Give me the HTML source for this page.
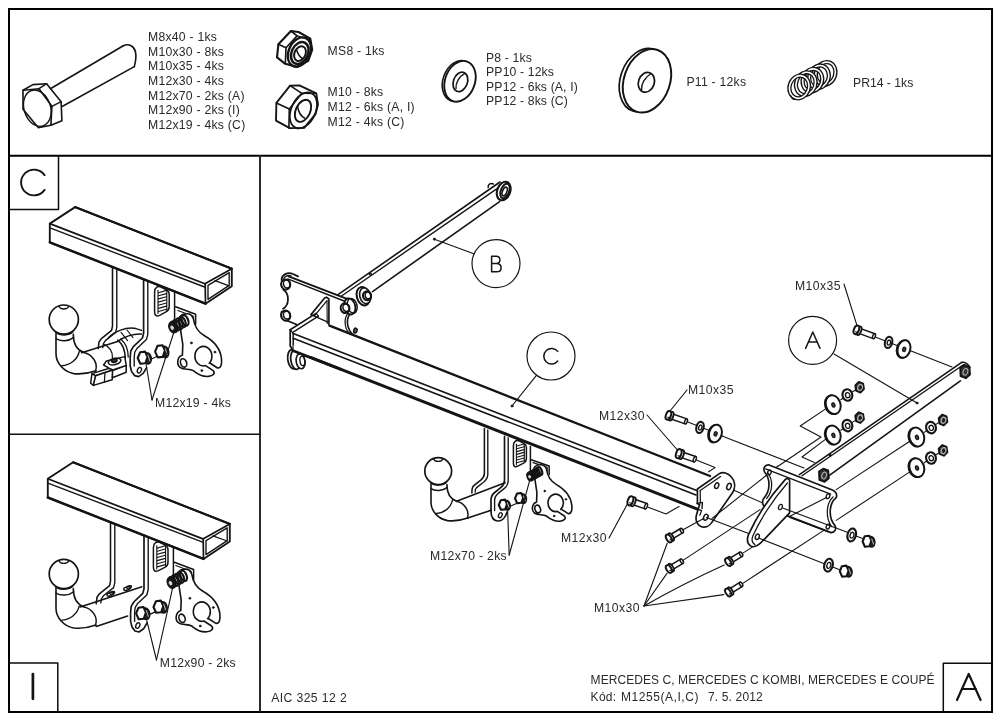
<!DOCTYPE html>
<html><head><meta charset="utf-8"><title>Assembly diagram</title>
<style>
html,body{margin:0;padding:0;background:#fff;}
body{width:1000px;height:721px;overflow:hidden;}
svg{display:block;font-family:"Liberation Sans",sans-serif;}
svg *{stroke-linecap:round;stroke-linejoin:round;}
svg text{stroke:none;}
svg{will-change:transform;transform:translateZ(0);}
</style></head><body>
<svg width="1000" height="721" viewBox="0 0 1000 721">
<rect x="0" y="0" width="1000" height="721" fill="#ffffff" stroke="none"/>
<rect x="9" y="9" width="983" height="703" fill="none" stroke="#000" stroke-width="2" style="stroke-linejoin:miter"/>
<line x1="9.0" y1="155.8" x2="992.0" y2="155.8" stroke="#000" stroke-width="2.0"/>
<line x1="260.0" y1="156.0" x2="260.0" y2="711.0" stroke="#2a2a2a" stroke-width="2.0"/>
<line x1="9.0" y1="434.3" x2="260.0" y2="434.3" stroke="#111" stroke-width="1.4"/>
<path d="M58.5 156.0 L58.5 209.4 L9.0 209.4" fill="none" stroke="#0c0c0c" stroke-width="1.5"/>
<path d="M9.0 663.0 L57.8 663.0 L57.8 711.0" fill="none" stroke="#0c0c0c" stroke-width="1.5"/>
<path d="M992.0 663.2 L943.3 663.2 L943.3 711.0" fill="none" stroke="#0c0c0c" stroke-width="1.5"/>
<path d="M44.57 175.10 A12.9 12.9 0 1 0 44.57 189.90" fill="none" stroke="#141414" stroke-width="1.9"/>
<line x1="32.9" y1="674.2" x2="32.9" y2="698.8" stroke="#141414" stroke-width="2.7"/>
<path d="M957.0 700.0 L968.7 674.0 L980.6 700.0" fill="none" stroke="#141414" stroke-width="2.2"/>
<line x1="961.8" y1="688.9" x2="975.8" y2="688.9" stroke="#141414" stroke-width="2.0"/>
<line x1="50.4" y1="88.7" x2="122.9" y2="46.0" stroke="#141414" stroke-width="1.61"/>
<line x1="62.6" y1="106.3" x2="134.3" y2="66.6" stroke="#141414" stroke-width="1.61"/>
<path d="M122.9 46.0 C128.5 43.2 133.8 45.6 135.4 51.5 C136.4 56 135.6 62 134.3 66.6" fill="none" stroke="#141414" stroke-width="1.61"/>
<path d="M23.0 90.2 L39.0 88.7 L51.9 106.3 L50.9 125.3 L38.2 127.6 L23.0 109.3 Z" fill="none" stroke="#141414" stroke-width="1.61"/>
<path d="M23.0 90.2 L32.9 84.6 L46.6 83.7 L61.1 101.7 L61.9 120.7 L50.9 125.3" fill="none" stroke="#141414" stroke-width="1.61"/>
<line x1="39.0" y1="88.7" x2="46.6" y2="83.7" stroke="#141414" stroke-width="1.49"/>
<line x1="51.9" y1="106.3" x2="61.1" y2="101.7" stroke="#141414" stroke-width="1.49"/>
<ellipse cx="37.3" cy="108.2" rx="13.2" ry="18.6" transform="rotate(-18 37.3 108.2)" fill="none" stroke="#141414" stroke-width="1.36"/>
<path d="M278.4 44.2 L290.9 31.0 L298.5 32.0 L310.3 38.6 L312.2 49.7 L308.2 60.8 L297.1 67.1 L285.3 63.8 L277.0 57.4 Z" fill="none" stroke="#141414" stroke-width="2.11"/>
<path d="M278.4 44.2 L286.0 47.7 L285.3 63.8" fill="none" stroke="#141414" stroke-width="1.61"/>
<path d="M286.0 47.7 L297.1 35.9 L290.9 31.0" fill="none" stroke="#141414" stroke-width="1.61"/>
<line x1="297.1" y1="35.9" x2="309.5" y2="39.5" stroke="#141414" stroke-width="1.49"/>
<ellipse cx="299.4" cy="52.0" rx="10.6" ry="15.3" transform="rotate(25 299.4 52.0)" fill="none" stroke="#141414" stroke-width="2.36"/>
<ellipse cx="299.8" cy="53.0" rx="8.1" ry="11.5" transform="rotate(25 299.8 53.0)" fill="none" stroke="#141414" stroke-width="2.48"/>
<ellipse cx="300.0" cy="53.6" rx="5.5" ry="7.7" transform="rotate(25 300.0 53.6)" fill="none" stroke="#141414" stroke-width="1.98"/>
<path d="M296.5 49.5 C297.5 53 299 56.5 302.5 58.5" fill="none" stroke="#141414" stroke-width="1.49"/>
<path d="M276.4 102.9 L290.1 85.6 L299.4 85.4 L316.3 93.3 L318.0 104.5 L315.5 114.2 L304.2 127.9 L289.7 128.1 L276.0 120.6 Z" fill="none" stroke="#141414" stroke-width="1.86"/>
<path d="M276.4 102.9 L289.3 109.0 L288.9 127.9" fill="none" stroke="#141414" stroke-width="1.61"/>
<path d="M289.3 109.0 L301.8 93.3 L290.1 85.6" fill="none" stroke="#141414" stroke-width="1.61"/>
<line x1="301.8" y1="93.3" x2="316.0" y2="93.6" stroke="#141414" stroke-width="1.49"/>
<ellipse cx="303.4" cy="110.4" rx="12.1" ry="19.0" transform="rotate(25 303.4 110.4)" fill="none" stroke="#141414" stroke-width="1.74"/>
<ellipse cx="303.0" cy="110.8" rx="7.2" ry="11.7" transform="rotate(25 303.0 110.8)" fill="none" stroke="#141414" stroke-width="1.86"/>
<path d="M297.6 107 C298.5 111.5 300.5 116 304.5 118" fill="none" stroke="#141414" stroke-width="1.49"/>
<path d="M297.6 107 C298.5 103 302 99.5 305.5 100.5" fill="none" stroke="#141414" stroke-width="1.24"/>
<ellipse cx="458.0" cy="80.9" rx="14.9" ry="21.0" transform="rotate(20 458.0 80.9)" fill="none" stroke="#141414" stroke-width="1.61"/>
<path d="M0 0" />
<ellipse cx="460.0" cy="81.3" rx="14.9" ry="21.0" transform="rotate(20 460.0 81.3)" fill="#fff" stroke="#141414" stroke-width="1.86"/>
<ellipse cx="460.4" cy="81.9" rx="7.0" ry="10.0" transform="rotate(20 460.4 81.9)" fill="none" stroke="#141414" stroke-width="1.74"/>
<path d="M456.0 88.5 C455.5 83 459 76.5 464.5 73.6" fill="none" stroke="#141414" stroke-width="1.36"/>
<ellipse cx="643.4" cy="80.2" rx="23.0" ry="32.6" transform="rotate(19 643.4 80.2)" fill="none" stroke="#141414" stroke-width="1.74"/>
<ellipse cx="647.0" cy="80.8" rx="23.0" ry="32.6" transform="rotate(19 647.0 80.8)" fill="#fff" stroke="#141414" stroke-width="1.98"/>
<ellipse cx="646.4" cy="82.3" rx="7.9" ry="10.1" transform="rotate(19 646.4 82.3)" fill="none" stroke="#141414" stroke-width="1.74"/>
<path d="M641.6 89.5 C641 84 645 77 650.6 74.0" fill="none" stroke="#141414" stroke-width="1.36"/>
<ellipse cx="825.6" cy="73.4" rx="9.6" ry="11.5" transform="rotate(20 825.6 73.4)" fill="none" stroke="#141414" stroke-width="4.22"/>
<ellipse cx="825.6" cy="73.4" rx="9.6" ry="11.5" transform="rotate(20 825.6 73.4)" fill="none" stroke="#fff" stroke-width="1.61"/>
<ellipse cx="819.0" cy="76.8" rx="9.6" ry="11.5" transform="rotate(20 819.0 76.8)" fill="none" stroke="#141414" stroke-width="4.22"/>
<ellipse cx="819.0" cy="76.8" rx="9.6" ry="11.5" transform="rotate(20 819.0 76.8)" fill="none" stroke="#fff" stroke-width="1.61"/>
<ellipse cx="812.4" cy="80.2" rx="9.6" ry="11.5" transform="rotate(20 812.4 80.2)" fill="none" stroke="#141414" stroke-width="4.22"/>
<ellipse cx="812.4" cy="80.2" rx="9.6" ry="11.5" transform="rotate(20 812.4 80.2)" fill="none" stroke="#fff" stroke-width="1.61"/>
<ellipse cx="805.8" cy="83.6" rx="9.6" ry="11.5" transform="rotate(20 805.8 83.6)" fill="none" stroke="#141414" stroke-width="4.22"/>
<ellipse cx="805.8" cy="83.6" rx="9.6" ry="11.5" transform="rotate(20 805.8 83.6)" fill="none" stroke="#fff" stroke-width="1.61"/>
<ellipse cx="799.2" cy="87.0" rx="9.6" ry="11.5" transform="rotate(20 799.2 87.0)" fill="none" stroke="#141414" stroke-width="4.22"/>
<ellipse cx="799.2" cy="87.0" rx="9.6" ry="11.5" transform="rotate(20 799.2 87.0)" fill="none" stroke="#fff" stroke-width="1.61"/>
<path d="M790.5 95.5 C792 98.5 793.5 99.5 794.5 99.0" fill="none" stroke="#141414" stroke-width="1.49"/>
<text x="148.0" y="40.9" font-size="12.2" letter-spacing="0.25" fill="#2a2a2a" text-anchor="start">M8x40 - 1ks</text>
<text x="148.0" y="55.5" font-size="12.2" letter-spacing="0.25" fill="#2a2a2a" text-anchor="start">M10x30 - 8ks</text>
<text x="148.0" y="70.2" font-size="12.2" letter-spacing="0.25" fill="#2a2a2a" text-anchor="start">M10x35 - 4ks</text>
<text x="148.0" y="84.8" font-size="12.2" letter-spacing="0.25" fill="#2a2a2a" text-anchor="start">M12x30 - 4ks</text>
<text x="148.0" y="99.5" font-size="12.2" letter-spacing="0.25" fill="#2a2a2a" text-anchor="start">M12x70 - 2ks (A)</text>
<text x="148.0" y="114.2" font-size="12.2" letter-spacing="0.25" fill="#2a2a2a" text-anchor="start">M12x90 - 2ks (I)</text>
<text x="148.0" y="128.8" font-size="12.2" letter-spacing="0.25" fill="#2a2a2a" text-anchor="start">M12x19 - 4ks (C)</text>
<text x="327.6" y="55.2" font-size="12.2" letter-spacing="0.25" fill="#2a2a2a" text-anchor="start">MS8 - 1ks</text>
<text x="327.6" y="96.4" font-size="12.2" letter-spacing="0.25" fill="#2a2a2a" text-anchor="start">M10 - 8ks</text>
<text x="327.6" y="111.1" font-size="12.2" letter-spacing="0.25" fill="#2a2a2a" text-anchor="start">M12 - 6ks (A, I)</text>
<text x="327.6" y="125.7" font-size="12.2" letter-spacing="0.25" fill="#2a2a2a" text-anchor="start">M12 - 4ks (C)</text>
<text x="486.1" y="61.5" font-size="12.2" letter-spacing="0.14" fill="#2a2a2a" text-anchor="start">P8 - 1ks</text>
<text x="486.1" y="76.1" font-size="12.2" letter-spacing="0.14" fill="#2a2a2a" text-anchor="start">PP10 - 12ks</text>
<text x="486.1" y="90.7" font-size="12.2" letter-spacing="0.14" fill="#2a2a2a" text-anchor="start">PP12 - 6ks (A, I)</text>
<text x="486.1" y="105.3" font-size="12.2" letter-spacing="0.14" fill="#2a2a2a" text-anchor="start">PP12 - 8ks (C)</text>
<text x="686.4" y="86.1" font-size="12.2" letter-spacing="0.25" fill="#2a2a2a" text-anchor="start">P11 - 12ks</text>
<text x="853.0" y="87.3" font-size="12.2" letter-spacing="0.0" fill="#2a2a2a" text-anchor="start">PR14 - 1ks</text>
<text x="271.2" y="702.3" font-size="12.2" letter-spacing="0.4" fill="#2a2a2a" text-anchor="start">AIC 325 12 2</text>
<text x="590.6" y="683.8" font-size="12.0" letter-spacing="0.07" fill="#2a2a2a" text-anchor="start">MERCEDES C, MERCEDES C KOMBI, MERCEDES E COUPÉ</text>
<text x="590.6" y="701.0" font-size="12.0" letter-spacing="0.3" fill="#2a2a2a" text-anchor="start">Kód:</text>
<text x="621.0" y="701.0" font-size="12.0" letter-spacing="0.55" fill="#2a2a2a" text-anchor="start">M1255(A,I,C)</text>
<text x="708.0" y="701.0" font-size="12.0" letter-spacing="0.15" fill="#2a2a2a" text-anchor="start">7. 5. 2012</text>
<line x1="338.0" y1="294.6" x2="500.0" y2="182.0" stroke="#141414" stroke-width="1.61"/>
<line x1="341.5" y1="296.0" x2="498.5" y2="187.6" stroke="#141414" stroke-width="1.36"/>
<line x1="372.5" y1="291.6" x2="499.6" y2="201.6" stroke="#141414" stroke-width="1.61"/>
<ellipse cx="503.7" cy="191.0" rx="6.5" ry="9.6" transform="rotate(20 503.7 191.0)" fill="#fff" stroke="#141414" stroke-width="2.11"/>
<ellipse cx="505.0" cy="191.0" rx="4.2" ry="7.6" transform="rotate(20 505.0 191.0)" fill="none" stroke="#141414" stroke-width="1.98"/>
<ellipse cx="504.7" cy="191.5" rx="2.2" ry="4.6" transform="rotate(20 504.7 191.5)" fill="none" stroke="#141414" stroke-width="1.61"/>
<path d="M488.2 187.6 C487.6 184.6 490.4 182.6 493.4 184.0" fill="none" stroke="#141414" stroke-width="1.49"/>
<ellipse cx="370.4" cy="274.2" rx="1.1" ry="0.8" transform="rotate(0 370.4 274.2)" fill="none" stroke="#141414" stroke-width="1.12"/>
<circle cx="496.0" cy="263.6" r="24.0" fill="none" stroke="#141414" stroke-width="1.18"/>
<circle cx="434.4" cy="239.2" r="1.1" fill="#141414" stroke="#141414" stroke-width="0.74"/>
<line x1="434.4" y1="239.2" x2="474.5" y2="254.0" stroke="#141414" stroke-width="1.12"/>
<path d="M491.6 256.2 L491.6 271.8 L496.6 271.8 C502.6 271.8 502.6 263.6 496.6 263.4 L491.6 263.4 M496.4 263.4 C501.2 263.2 501.2 256.2 496.0 256.2 L491.6 256.2" fill="none" stroke="#141414" stroke-width="1.49"/>
<line x1="288.6" y1="276.3" x2="349.0" y2="299.6" stroke="#141414" stroke-width="1.86"/>
<line x1="287.7" y1="278.9" x2="346.0" y2="301.8" stroke="#141414" stroke-width="1.49"/>
<path d="M281.6 280.0 C281.6 274.6 287.6 271.6 293.0 274.0 L298.0 276.4" fill="none" stroke="#141414" stroke-width="1.86"/>
<path d="M283.4 280.0 C284.0 276.6 287.6 274.6 291.0 276.0" fill="none" stroke="#141414" stroke-width="1.36"/>
<path d="M283.3 289.8 C289.6 293.6 289.6 304.6 283.0 308.8" fill="none" stroke="#141414" stroke-width="1.74"/>
<line x1="286.7" y1="320.4" x2="296.6" y2="324.6" stroke="#141414" stroke-width="1.61"/>
<path d="M281.6 311.4 C280.6 315 281.6 318.6 284.6 320.4" fill="none" stroke="#141414" stroke-width="1.49"/>
<ellipse cx="285.7" cy="284.5" rx="4.5" ry="5.0" transform="rotate(-15 285.7 284.5)" fill="#fff" stroke="#141414" stroke-width="2.11"/>
<ellipse cx="286.9" cy="284.0" rx="3.4" ry="4.0" transform="rotate(-15 286.9 284.0)" fill="none" stroke="#141414" stroke-width="1.49"/>
<ellipse cx="285.7" cy="315.6" rx="4.5" ry="5.0" transform="rotate(-15 285.7 315.6)" fill="#fff" stroke="#141414" stroke-width="2.11"/>
<ellipse cx="286.9" cy="315.1" rx="3.4" ry="4.0" transform="rotate(-15 286.9 315.1)" fill="none" stroke="#141414" stroke-width="1.49"/>
<path d="M350.0 313.6 C345.6 320 347.0 329.4 353.4 335.2" fill="none" stroke="#141414" stroke-width="1.61"/>
<path d="M347.4 313.8 C343.4 320 344.8 330 350.4 334.4" fill="none" stroke="#141414" stroke-width="1.24"/>
<ellipse cx="355.4" cy="330.6" rx="1.7" ry="2.5" transform="rotate(10 355.4 330.6)" fill="#555" stroke="#141414" stroke-width="1.49"/>
<ellipse cx="349.8" cy="306.4" rx="5.4" ry="8.2" transform="rotate(-15 349.8 306.4)" fill="#fff" stroke="#141414" stroke-width="1.86"/>
<ellipse cx="352.2" cy="305.8" rx="4.8" ry="7.4" transform="rotate(-15 352.2 305.8)" fill="none" stroke="#141414" stroke-width="1.49"/>
<ellipse cx="345.0" cy="308.2" rx="4.3" ry="4.8" transform="rotate(-15 345.0 308.2)" fill="#fff" stroke="#141414" stroke-width="2.11"/>
<ellipse cx="346.2" cy="307.7" rx="3.2" ry="3.8" transform="rotate(-15 346.2 307.7)" fill="none" stroke="#141414" stroke-width="1.49"/>
<ellipse cx="363.2" cy="296.2" rx="6.4" ry="9.4" transform="rotate(-15 363.2 296.2)" fill="#fff" stroke="#141414" stroke-width="1.98"/>
<ellipse cx="365.2" cy="295.8" rx="5.4" ry="8.0" transform="rotate(-15 365.2 295.8)" fill="#fff" stroke="#141414" stroke-width="1.61"/>
<ellipse cx="367.0" cy="295.8" rx="4.0" ry="4.4" transform="rotate(-15 367.0 295.8)" fill="#fff" stroke="#141414" stroke-width="2.11"/>
<ellipse cx="368.2" cy="295.3" rx="3.0" ry="3.5" transform="rotate(-15 368.2 295.3)" fill="none" stroke="#141414" stroke-width="1.49"/>
<path d="M311.0 314.6 L324.6 298.0 L326.4 297.2 L328.9 299.0 L328.9 324.6" fill="none" stroke="#141414" stroke-width="1.67"/>
<path d="M314.6 315.6 L326.8 300.8" fill="none" stroke="#141414" stroke-width="1.24"/>
<line x1="327.0" y1="300.6" x2="327.2" y2="323.6" stroke="#141414" stroke-width="1.12"/>
<line x1="311.0" y1="314.6" x2="328.4" y2="322.4" stroke="#141414" stroke-width="1.36"/>
<line x1="290.2" y1="329.8" x2="316.0" y2="313.4" stroke="#141414" stroke-width="1.61"/>
<line x1="293.6" y1="331.8" x2="318.4" y2="316.2" stroke="#141414" stroke-width="1.36"/>
<line x1="316.0" y1="313.4" x2="318.4" y2="316.2" stroke="#141414" stroke-width="1.24"/>
<path d="M290.2 329.8 L290.2 346.0 L293.2 350.8" fill="none" stroke="#141414" stroke-width="1.74"/>
<line x1="293.2" y1="333.4" x2="293.2" y2="350.8" stroke="#141414" stroke-width="1.49"/>
<line x1="290.2" y1="329.8" x2="293.2" y2="333.4" stroke="#141414" stroke-width="1.36"/>
<line x1="329.5" y1="325.7" x2="710.0" y2="476.0" stroke="#141414" stroke-width="2.36"/>
<line x1="293.2" y1="333.4" x2="698.0" y2="491.0" stroke="#141414" stroke-width="1.61"/>
<line x1="293.2" y1="338.2" x2="696.0" y2="495.0" stroke="#141414" stroke-width="1.49"/>
<line x1="293.2" y1="350.6" x2="698.0" y2="509.4" stroke="#141414" stroke-width="2.85"/>
<ellipse cx="292.6" cy="359.4" rx="4.8" ry="9.6" transform="rotate(-8 292.6 359.4)" fill="#fff" stroke="#141414" stroke-width="1.74"/>
<ellipse cx="295.6" cy="359.8" rx="4.8" ry="9.6" transform="rotate(-8 295.6 359.8)" fill="#fff" stroke="#141414" stroke-width="1.74"/>
<ellipse cx="300.6" cy="361.2" rx="4.4" ry="7.6" transform="rotate(-8 300.6 361.2)" fill="#fff" stroke="#141414" stroke-width="1.61"/>
<ellipse cx="302.4" cy="361.0" rx="2.4" ry="4.6" transform="rotate(-8 302.4 361.0)" fill="none" stroke="#141414" stroke-width="1.36"/>
<path d="M293.6 351 L311 357.8 L311 352 L293.6 345 Z" fill="#fff" stroke="none"/>
<line x1="293.2" y1="350.8" x2="340.0" y2="369.0" stroke="#141414" stroke-width="2.73"/>
<circle cx="551.0" cy="356.0" r="24.0" fill="none" stroke="#141414" stroke-width="1.18"/>
<circle cx="512.0" cy="406.0" r="1.1" fill="#141414" stroke="#141414" stroke-width="0.74"/>
<line x1="512.0" y1="406.0" x2="536.4" y2="375.4" stroke="#141414" stroke-width="1.12"/>
<path d="M557.75 351.40 A7.8 7.8 0 1 0 557.75 361.00" fill="none" stroke="#141414" stroke-width="1.49"/>
<path d="M484.4 428.6 L484.4 473.6 C484.2 478 482 479 479.4 481.2 L473.6 485.8 C472 487.2 471.8 489.5 471.9 493.0" fill="none" stroke="#141414" stroke-width="1.55"/>
<path d="M487.8 430.0 L487.8 474.6 C487.6 479.4 485.2 480.8 482.8 482.8 L476.6 487.6 C475.2 488.8 475.0 490.6 475.2 492.2" fill="none" stroke="#141414" stroke-width="1.36"/>
<line x1="456.6" y1="501.3" x2="505.0" y2="482.7" stroke="#141414" stroke-width="1.61"/>
<line x1="467.7" y1="518.0" x2="491.2" y2="510.2" stroke="#141414" stroke-width="1.61"/>
<path d="M431.0 484.0 L431.0 502.7 C431.2 511.0 438.0 519.0 447.5 520.6 C455.0 521.6 462.0 520.0 467.7 518.0" fill="none" stroke="#141414" stroke-width="1.61"/>
<path d="M446.9 484.5 C446.9 492.0 449.0 498.5 456.6 501.3" fill="none" stroke="#141414" stroke-width="1.61"/>
<path d="M456.6 501.3 C464.0 503.0 470.0 510.5 467.3 518.2" fill="none" stroke="#141414" stroke-width="1.45"/>
<path d="M436.4 513.4 C444.0 513.0 450.6 508.0 452.4 500.4" fill="none" stroke="#141414" stroke-width="1.37"/>
<path d="M431.0 488.6 C435.0 491.4 443.0 491.0 446.9 487.6" fill="none" stroke="#141414" stroke-width="1.45"/>
<circle cx="438.2" cy="471.1" r="13.4" fill="#fff" stroke="#141414" stroke-width="1.69"/>
<path d="M430.6 482.9 C435.0 486.2 443.0 485.8 446.6 482.2" fill="none" stroke="#141414" stroke-width="1.45"/>
<path d="M433.6 458.9 C435.0 462.2 441.4 462.2 442.8 458.9" fill="none" stroke="#141414" stroke-width="1.29"/>
<path d="M504.5 436.4 L504.5 480.5 C504.4 484 503.4 485.4 501 487.4 L494.1 493 C491.6 495.2 491.0 497.6 491.0 500.5 L491.0 511 C491.0 516 493 520.4 497.4 521.0 C502 521.4 505.6 517.6 507.0 512.0" fill="none" stroke="#141414" stroke-width="1.67"/>
<path d="M508.2 437.8 L508.2 480.8 C508.0 485 506.6 486.6 504.4 488.4 L497.6 493.9 C495.6 495.6 494.6 497.4 494.6 500.0 L494.6 510.5" fill="none" stroke="#141414" stroke-width="1.36"/>
<line x1="530.4" y1="446.4" x2="530.4" y2="471.6" stroke="#141414" stroke-width="1.49"/>
<path d="M531.2 459.8 L549.2 466.0 L549.2 474.6" fill="none" stroke="#141414" stroke-width="1.49"/>
<path d="M533.0 462.6 L547.2 467.4 L547.2 472.0" fill="none" stroke="#141414" stroke-width="1.12"/>
<path d="M513.4 445.5 C513.4 441.2 516.5 439.6 519.5 441.2 L524.2 443.6 C526.0 444.6 526.4 445.8 526.4 447.5 L526.4 458.6 C526.4 461.2 525.6 462.2 523.6 463.2 L517.8 466.2 C515.0 467.6 513.4 466.2 513.4 463.2 Z" fill="none" stroke="#141414" stroke-width="1.49"/>
<line x1="516.8" y1="446.0" x2="524.0" y2="444.0" stroke="#141414" stroke-width="1.18"/>
<line x1="516.8" y1="448.8" x2="524.0" y2="446.8" stroke="#141414" stroke-width="1.18"/>
<line x1="516.8" y1="451.6" x2="524.0" y2="449.6" stroke="#141414" stroke-width="1.18"/>
<line x1="516.8" y1="454.4" x2="524.0" y2="452.4" stroke="#141414" stroke-width="1.18"/>
<line x1="516.8" y1="457.2" x2="524.0" y2="455.2" stroke="#141414" stroke-width="1.18"/>
<line x1="516.8" y1="460.0" x2="524.0" y2="458.0" stroke="#141414" stroke-width="1.18"/>
<line x1="516.8" y1="462.8" x2="524.0" y2="460.8" stroke="#141414" stroke-width="1.18"/>
<line x1="516.4" y1="444.0" x2="516.4" y2="464.6" stroke="#141414" stroke-width="1.12"/>
<line x1="524.3" y1="444.6" x2="524.3" y2="461.6" stroke="#141414" stroke-width="1.12"/>
<path d="M534.7 477.2 L533.6 470.0 C534.0 464.5 544.0 462.0 546.4 469.0 C547.6 477.0 551.0 481.6 556.5 484.6 C565.0 489.4 571.0 497.0 571.8 505.5 C572.2 510.0 571.5 514.0 568.2 513.6 L561.6 509.4 L560.8 509.4 A7.7 8.7 0 1 0 557.4 511.4 L564.3 516.0 C566.4 518.4 564.5 520.8 560.0 521.2 C553.0 521.8 549.0 518.0 546.4 516.0 C543.0 513.8 538.0 515.8 534.4 513.0 C531.0 510.0 532.0 503.6 536.6 502.0 L536.9 492.4 L535.4 482.7 Z" fill="#fff" stroke="#141414" stroke-width="1.61"/>
<ellipse cx="537.7" cy="509.0" rx="2.7" ry="3.9" transform="rotate(-20 537.7 509.0)" fill="none" stroke="#141414" stroke-width="1.61"/>
<circle cx="544.7" cy="491.0" r="0.9" fill="#141414" stroke="#141414" stroke-width="0.62"/>
<circle cx="565.9" cy="499.3" r="0.9" fill="#141414" stroke="#141414" stroke-width="0.62"/>
<circle cx="554.1" cy="516.0" r="0.9" fill="#141414" stroke="#141414" stroke-width="0.62"/>
<ellipse cx="530.8" cy="476.1" rx="2.3" ry="4.2" transform="rotate(-22 530.8 476.1)" fill="#fff" stroke="#141414" stroke-width="2.17"/>
<ellipse cx="533.0" cy="474.8" rx="2.3" ry="4.2" transform="rotate(-22 533.0 474.8)" fill="none" stroke="#141414" stroke-width="2.17"/>
<ellipse cx="535.2" cy="473.6" rx="2.3" ry="4.2" transform="rotate(-22 535.2 473.6)" fill="none" stroke="#141414" stroke-width="2.17"/>
<ellipse cx="537.4" cy="472.4" rx="2.3" ry="4.2" transform="rotate(-22 537.4 472.4)" fill="none" stroke="#141414" stroke-width="2.17"/>
<ellipse cx="539.6" cy="471.2" rx="2.3" ry="4.2" transform="rotate(-22 539.6 471.2)" fill="none" stroke="#141414" stroke-width="2.17"/>
<ellipse cx="530.0" cy="476.6" rx="2.4" ry="3.9" transform="rotate(-22 530.0 476.6)" fill="#1c1c1c" stroke="#141414" stroke-width="2.23"/>
<ellipse cx="529.6" cy="476.8" rx="0.9" ry="1.5" transform="rotate(-22 529.6 476.8)" fill="#ddd" stroke="#ddd" stroke-width="0.74"/>
<ellipse cx="500.3" cy="515.2" rx="1.7" ry="2.6" transform="rotate(25 500.3 515.2)" fill="none" stroke="#141414" stroke-width="1.36"/>
<line x1="508.5" y1="507.0" x2="517.0" y2="503.2" stroke="#141414" stroke-width="1.24"/>
<ellipse cx="507.0" cy="505.3" rx="3.0" ry="4.6" transform="rotate(-8 507.0 505.3)" fill="#2a2a2a" stroke="#141414" stroke-width="1.98"/>
<path d="M498.8 505.0 L500.8 500.2 L505.0 499.6 L507.0 504.2 L505.2 509.4 L501.0 509.8 Z" fill="#fff" stroke="#141414" stroke-width="2.11"/>
<line x1="507.3" y1="502.6" x2="509.0" y2="507.4" stroke="#bbb" stroke-width="0.99"/>
<ellipse cx="523.2" cy="498.7" rx="3.0" ry="4.6" transform="rotate(-8 523.2 498.7)" fill="#2a2a2a" stroke="#141414" stroke-width="1.98"/>
<path d="M515.0 498.4 L517.0 493.6 L521.2 493.0 L523.2 497.6 L521.4 502.8 L517.2 503.2 Z" fill="#fff" stroke="#141414" stroke-width="2.11"/>
<line x1="523.5" y1="496.0" x2="525.2" y2="500.8" stroke="#bbb" stroke-width="0.99"/>
<line x1="509.2" y1="555.0" x2="507.6" y2="509.6" stroke="#141414" stroke-width="1.12"/>
<line x1="509.2" y1="555.0" x2="530.2" y2="478.6" stroke="#141414" stroke-width="1.12"/>
<text x="430.0" y="560.4" font-size="12.2" letter-spacing="0.32" fill="#2a2a2a" text-anchor="start">M12x70 - 2ks</text>
<line x1="687.0" y1="390.0" x2="670.0" y2="411.0" stroke="#141414" stroke-width="1.12"/>
<text x="688.0" y="394.0" font-size="12.2" letter-spacing="0.45" fill="#2a2a2a" text-anchor="start">M10x35</text>
<line x1="686.0" y1="421.2" x2="722.0" y2="435.6" stroke="#141414" stroke-width="1.12"/>
<line x1="722.0" y1="436.0" x2="804.0" y2="468.0" stroke="#141414" stroke-width="1.12"/>
<path d="M668.1 418.0 L685.1 423.9" fill="none" stroke="#141414" stroke-width="1.49"/>
<path d="M669.9 413.0 L686.9 418.9" fill="none" stroke="#141414" stroke-width="1.49"/>
<ellipse cx="686.0" cy="421.4" rx="1.3" ry="2.6" transform="rotate(19.139782258653064 686.0 421.4)" fill="#fff" stroke="#141414" stroke-width="1.49"/>
<ellipse cx="671.1" cy="416.2" rx="2.0" ry="4.5" transform="rotate(19.139782258653064 671.1 416.2)" fill="#fff" stroke="#141414" stroke-width="1.86"/>
<ellipse cx="668.4" cy="415.3" rx="2.5" ry="4.5" transform="rotate(19.139782258653064 668.4 415.3)" fill="#fff" stroke="#141414" stroke-width="1.98"/>
<line x1="667.8" y1="417.2" x2="670.2" y2="418.1" stroke="#141414" stroke-width="1.12"/>
<ellipse cx="700.0" cy="427.4" rx="3.6" ry="5.7" transform="rotate(15 700.0 427.4)" fill="#fff" stroke="#141414" stroke-width="2.11"/>
<ellipse cx="700.3" cy="427.6" rx="1.6" ry="2.6" transform="rotate(15 700.3 427.6)" fill="none" stroke="#141414" stroke-width="1.36"/>
<ellipse cx="714.4" cy="433.7" rx="6.3" ry="9.0" transform="rotate(15 714.4 433.7)" fill="#fff" stroke="#141414" stroke-width="1.61"/>
<ellipse cx="715.4" cy="433.5" rx="6.3" ry="9.0" transform="rotate(15 715.4 433.5)" fill="#fff" stroke="#141414" stroke-width="1.98"/>
<ellipse cx="715.6" cy="433.9" rx="1.5" ry="2.2" transform="rotate(15 715.6 433.9)" fill="#444" stroke="#141414" stroke-width="1.24"/>
<text x="599.0" y="420.0" font-size="12.2" letter-spacing="0.45" fill="#2a2a2a" text-anchor="start">M12x30</text>
<line x1="647.0" y1="415.0" x2="677.0" y2="449.5" stroke="#141414" stroke-width="1.12"/>
<path d="M695.0 459.4 L715.0 467.6 L708.6 471.8" fill="none" stroke="#141414" stroke-width="1.12"/>
<path d="M678.4 456.6 L693.9 461.9" fill="none" stroke="#141414" stroke-width="1.49"/>
<path d="M680.2 451.2 L695.7 456.5" fill="none" stroke="#141414" stroke-width="1.49"/>
<ellipse cx="694.8" cy="459.2" rx="1.3" ry="2.9" transform="rotate(18.87737848096152 694.8 459.2)" fill="#fff" stroke="#141414" stroke-width="1.49"/>
<ellipse cx="681.5" cy="454.6" rx="2.1" ry="4.7" transform="rotate(18.87737848096152 681.5 454.6)" fill="#fff" stroke="#141414" stroke-width="1.86"/>
<ellipse cx="678.7" cy="453.7" rx="2.6" ry="4.7" transform="rotate(18.87737848096152 678.7 453.7)" fill="#fff" stroke="#141414" stroke-width="1.98"/>
<line x1="678.0" y1="455.7" x2="680.6" y2="456.6" stroke="#141414" stroke-width="1.12"/>
<text x="561.0" y="542.0" font-size="12.2" letter-spacing="0.45" fill="#2a2a2a" text-anchor="start">M12x30</text>
<line x1="609.0" y1="538.0" x2="627.4" y2="504.0" stroke="#141414" stroke-width="1.12"/>
<path d="M646.0 506.4 L666.0 514.0 L679.0 506.4" fill="none" stroke="#141414" stroke-width="1.12"/>
<path d="M630.1 503.7 L645.1 508.9" fill="none" stroke="#141414" stroke-width="1.49"/>
<path d="M631.9 498.3 L646.9 503.5" fill="none" stroke="#141414" stroke-width="1.49"/>
<ellipse cx="646.0" cy="506.2" rx="1.3" ry="2.9" transform="rotate(19.119726329931115 646.0 506.2)" fill="#fff" stroke="#141414" stroke-width="1.49"/>
<ellipse cx="633.2" cy="501.8" rx="2.1" ry="4.7" transform="rotate(19.119726329931115 633.2 501.8)" fill="#fff" stroke="#141414" stroke-width="1.86"/>
<ellipse cx="630.4" cy="500.8" rx="2.6" ry="4.7" transform="rotate(19.119726329931115 630.4 500.8)" fill="#fff" stroke="#141414" stroke-width="1.98"/>
<line x1="629.7" y1="502.8" x2="632.3" y2="503.7" stroke="#141414" stroke-width="1.12"/>
<path d="M697.4 489.0 L719.4 473.6 C723 471.4 728 473 731.4 477 C735 481 735.6 487 733.0 492.0 L712.4 521.6 C709.6 526 705 528.4 700.4 526.2 C696.4 524.2 695.2 519 696.6 514.6 L699.6 504.4 L697.4 503.6 Z" fill="#fff" stroke="#141414" stroke-width="1.67"/>
<path d="M700.2 490.6 L720.6 476.6" fill="none" stroke="#141414" stroke-width="1.24"/>
<path d="M700.2 490.6 L700.4 503.0" fill="none" stroke="#141414" stroke-width="1.24"/>
<ellipse cx="716.7" cy="485.7" rx="1.9" ry="2.9" transform="rotate(22 716.7 485.7)" fill="none" stroke="#141414" stroke-width="1.49"/>
<ellipse cx="729.0" cy="486.5" rx="2.1" ry="3.3" transform="rotate(22 729.0 486.5)" fill="none" stroke="#141414" stroke-width="1.49"/>
<ellipse cx="705.8" cy="517.2" rx="2.1" ry="3.1" transform="rotate(22 705.8 517.2)" fill="none" stroke="#141414" stroke-width="1.49"/>
<path d="M697.0 503.4 L702.4 502.4 L702.0 508.6" fill="none" stroke="#141414" stroke-width="1.36"/>
<path d="M698.0 509.4 L701.5 510.6 L699.8 515.4" fill="none" stroke="#141414" stroke-width="1.24"/>
<text x="594.0" y="612.0" font-size="12.2" letter-spacing="0.45" fill="#2a2a2a" text-anchor="start">M10x30</text>
<path d="M670.6 540.2 L683.0 532.7" fill="none" stroke="#141414" stroke-width="1.49"/>
<path d="M668.2 536.0 L680.6 528.5" fill="none" stroke="#141414" stroke-width="1.49"/>
<ellipse cx="681.8" cy="530.6" rx="1.3" ry="2.4" transform="rotate(-31.167172646102316 681.8 530.6)" fill="#fff" stroke="#141414" stroke-width="1.49"/>
<ellipse cx="671.2" cy="537.0" rx="1.9" ry="4.3" transform="rotate(-31.167172646102316 671.2 537.0)" fill="#fff" stroke="#141414" stroke-width="1.86"/>
<ellipse cx="668.9" cy="538.4" rx="2.4" ry="4.3" transform="rotate(-31.167172646102316 668.9 538.4)" fill="#fff" stroke="#141414" stroke-width="1.98"/>
<line x1="669.9" y1="540.0" x2="672.0" y2="538.8" stroke="#141414" stroke-width="1.12"/>
<path d="M670.6 570.8 L683.0 563.3" fill="none" stroke="#141414" stroke-width="1.49"/>
<path d="M668.2 566.6 L680.6 559.1" fill="none" stroke="#141414" stroke-width="1.49"/>
<ellipse cx="681.8" cy="561.2" rx="1.3" ry="2.4" transform="rotate(-31.167172646102316 681.8 561.2)" fill="#fff" stroke="#141414" stroke-width="1.49"/>
<ellipse cx="671.2" cy="567.6" rx="1.9" ry="4.3" transform="rotate(-31.167172646102316 671.2 567.6)" fill="#fff" stroke="#141414" stroke-width="1.86"/>
<ellipse cx="668.9" cy="569.0" rx="2.4" ry="4.3" transform="rotate(-31.167172646102316 668.9 569.0)" fill="#fff" stroke="#141414" stroke-width="1.98"/>
<line x1="669.9" y1="570.6" x2="672.0" y2="569.4" stroke="#141414" stroke-width="1.12"/>
<path d="M729.9 563.9 L742.3 556.4" fill="none" stroke="#141414" stroke-width="1.49"/>
<path d="M727.5 559.7 L739.9 552.2" fill="none" stroke="#141414" stroke-width="1.49"/>
<ellipse cx="741.1" cy="554.3" rx="1.3" ry="2.4" transform="rotate(-31.167172646102316 741.1 554.3)" fill="#fff" stroke="#141414" stroke-width="1.49"/>
<ellipse cx="730.5" cy="560.7" rx="1.9" ry="4.3" transform="rotate(-31.167172646102316 730.5 560.7)" fill="#fff" stroke="#141414" stroke-width="1.86"/>
<ellipse cx="728.2" cy="562.1" rx="2.4" ry="4.3" transform="rotate(-31.167172646102316 728.2 562.1)" fill="#fff" stroke="#141414" stroke-width="1.98"/>
<line x1="729.2" y1="563.7" x2="731.3" y2="562.5" stroke="#141414" stroke-width="1.12"/>
<path d="M730.0 594.2 L742.4 586.3" fill="none" stroke="#141414" stroke-width="1.49"/>
<path d="M727.4 590.2 L739.8 582.3" fill="none" stroke="#141414" stroke-width="1.49"/>
<ellipse cx="741.1" cy="584.3" rx="1.3" ry="2.4" transform="rotate(-32.501080540361635 741.1 584.3)" fill="#fff" stroke="#141414" stroke-width="1.49"/>
<ellipse cx="730.5" cy="591.1" rx="1.9" ry="4.3" transform="rotate(-32.501080540361635 730.5 591.1)" fill="#fff" stroke="#141414" stroke-width="1.86"/>
<ellipse cx="728.2" cy="592.5" rx="2.4" ry="4.3" transform="rotate(-32.501080540361635 728.2 592.5)" fill="#fff" stroke="#141414" stroke-width="1.98"/>
<line x1="729.3" y1="594.1" x2="731.3" y2="592.8" stroke="#141414" stroke-width="1.12"/>
<line x1="644.0" y1="606.0" x2="667.2" y2="543.2" stroke="#141414" stroke-width="1.12"/>
<line x1="644.0" y1="606.0" x2="667.0" y2="573.4" stroke="#141414" stroke-width="1.12"/>
<path d="M644 606 C672 590 700 576 724.2 565.0" fill="none" stroke="#141414" stroke-width="1.12"/>
<path d="M644 606 C672 602 700 598 723.8 594.6" fill="none" stroke="#141414" stroke-width="1.12"/>
<line x1="683.0" y1="529.8" x2="703.6" y2="518.6" stroke="#141414" stroke-width="1.12"/>
<line x1="683.0" y1="560.4" x2="760.0" y2="509.6" stroke="#141414" stroke-width="1.12"/>
<line x1="742.4" y1="553.4" x2="752.0" y2="547.4" stroke="#141414" stroke-width="1.12"/>
<line x1="742.4" y1="583.6" x2="828.0" y2="527.6" stroke="#141414" stroke-width="1.12"/>
<line x1="712.0" y1="518.4" x2="760.0" y2="480.4" stroke="#141414" stroke-width="1.12"/>
<line x1="760.0" y1="480.4" x2="778.0" y2="466.0" stroke="#141414" stroke-width="1.12"/>
<line x1="734.4" y1="490.4" x2="764.0" y2="503.6" stroke="#141414" stroke-width="1.12"/>
<line x1="706.4" y1="517.4" x2="748.6" y2="533.6" stroke="#141414" stroke-width="1.12"/>
<line x1="799.4" y1="474.6" x2="961.7" y2="362.4" stroke="#141414" stroke-width="1.61"/>
<line x1="802.0" y1="475.8" x2="963.4" y2="364.8" stroke="#141414" stroke-width="1.36"/>
<line x1="829.0" y1="475.6" x2="960.4" y2="380.9" stroke="#141414" stroke-width="1.61"/>
<path d="M961.7 362.4 C964.5 361.8 968.5 364.0 970.0 367.5" fill="none" stroke="#141414" stroke-width="1.49"/>
<ellipse cx="830.2" cy="455.2" rx="1.0" ry="0.7" transform="rotate(0 830.2 455.2)" fill="none" stroke="#141414" stroke-width="1.12"/>
<path d="M819.0 471.5 L823.2 468.7 L828.2 470.5 L828.8 478.3 L824.6 481.9 L819.4 479.9 Z" fill="#333" stroke="#141414" stroke-width="1.86"/>
<ellipse cx="824.2" cy="475.5" rx="2.3" ry="3.4" transform="rotate(20 824.2 475.5)" fill="#333" stroke="#aaa" stroke-width="1.12"/>
<path d="M960.2 367.8 L964.4 365.0 L969.4 366.8 L970.0 374.6 L965.8 378.2 L960.6 376.2 Z" fill="#333" stroke="#141414" stroke-width="1.86"/>
<ellipse cx="965.4" cy="371.8" rx="2.3" ry="3.4" transform="rotate(20 965.4 371.8)" fill="#333" stroke="#aaa" stroke-width="1.12"/>
<path d="M768.4 464.8 L832.4 490.0 C836 491.4 837.4 494.6 836.2 497.6 C828.4 504 828.4 518 835.0 525.6 C836.6 529 835 532.6 831.0 532.6 L789.6 516.6 L766.0 507.4 C762.6 506 761.6 502 763.6 498.6 C770.6 491 770.6 479 764.6 472.0 C762.8 468.6 764.6 465 768.4 464.8 Z" fill="#fff" stroke="#141414" stroke-width="1.67"/>
<path d="M765.6 468.8 L830.6 494.2" fill="none" stroke="#141414" stroke-width="1.24"/>
<path d="M833.0 497.0 C825.6 504 825.6 518 831.6 526.6" fill="none" stroke="#141414" stroke-width="1.24"/>
<path d="M767.6 472.6 C773.4 480 773.0 491 766.6 498.6" fill="none" stroke="#141414" stroke-width="1.24"/>
<line x1="826.4" y1="497.6" x2="790.4" y2="516.0" stroke="#141414" stroke-width="1.12"/>
<ellipse cx="769.4" cy="472.4" rx="1.7" ry="2.5" transform="rotate(20 769.4 472.4)" fill="none" stroke="#141414" stroke-width="1.36"/>
<ellipse cx="828.0" cy="496.2" rx="1.7" ry="2.5" transform="rotate(20 828.0 496.2)" fill="none" stroke="#141414" stroke-width="1.36"/>
<ellipse cx="828.0" cy="526.6" rx="1.7" ry="2.5" transform="rotate(20 828.0 526.6)" fill="none" stroke="#141414" stroke-width="1.36"/>
<path d="M785.4 479.4 C787.2 477.8 789.6 478.6 789.6 480.8 L789.6 512.8 L763.8 539.8 C760 544 754.4 548.8 750.4 545.8 C746.6 542.8 747.2 537.8 748.6 534.4 C756 518 769 497.6 785.4 479.4 Z" fill="#fff" stroke="#141414" stroke-width="1.67"/>
<path d="M787.4 483.0 C773.6 499 760.6 519 752.8 536.0 C751.4 540 752.4 543.2 754.8 544.6" fill="none" stroke="#141414" stroke-width="1.24"/>
<ellipse cx="780.4" cy="507.0" rx="1.8" ry="2.7" transform="rotate(20 780.4 507.0)" fill="none" stroke="#141414" stroke-width="1.36"/>
<ellipse cx="757.3" cy="536.8" rx="1.9" ry="2.8" transform="rotate(20 757.3 536.8)" fill="none" stroke="#141414" stroke-width="1.36"/>
<line x1="782.6" y1="508.0" x2="848.0" y2="532.4" stroke="#141414" stroke-width="1.12"/>
<line x1="789.8" y1="517.4" x2="828.0" y2="531.6" stroke="#141414" stroke-width="1.49"/>
<line x1="758.6" y1="538.0" x2="825.0" y2="564.0" stroke="#141414" stroke-width="1.12"/>
<line x1="832.6" y1="567.0" x2="840.4" y2="570.0" stroke="#141414" stroke-width="1.12"/>
<line x1="856.0" y1="536.0" x2="863.4" y2="538.8" stroke="#141414" stroke-width="1.12"/>
<ellipse cx="851.7" cy="535.0" rx="4.2" ry="6.6" transform="rotate(15 851.7 535.0)" fill="#fff" stroke="#141414" stroke-width="2.11"/>
<ellipse cx="852.0" cy="535.2" rx="1.9" ry="3.0" transform="rotate(15 852.0 535.2)" fill="none" stroke="#141414" stroke-width="1.36"/>
<ellipse cx="871.4" cy="541.8" rx="3.2" ry="5.0" transform="rotate(-8 871.4 541.8)" fill="#2a2a2a" stroke="#141414" stroke-width="1.98"/>
<path d="M862.6 541.5 L864.7 536.3 L869.2 535.7 L871.4 540.7 L869.5 546.3 L864.9 546.7 Z" fill="#fff" stroke="#141414" stroke-width="2.11"/>
<line x1="871.7" y1="538.9" x2="873.6" y2="544.1" stroke="#bbb" stroke-width="0.99"/>
<ellipse cx="828.5" cy="565.2" rx="4.2" ry="6.6" transform="rotate(15 828.5 565.2)" fill="#fff" stroke="#141414" stroke-width="2.11"/>
<ellipse cx="828.8" cy="565.4" rx="1.9" ry="3.0" transform="rotate(15 828.8 565.4)" fill="none" stroke="#141414" stroke-width="1.36"/>
<ellipse cx="848.6" cy="571.7" rx="3.2" ry="5.0" transform="rotate(-8 848.6 571.7)" fill="#2a2a2a" stroke="#141414" stroke-width="1.98"/>
<path d="M839.8 571.4 L841.9 566.2 L846.4 565.6 L848.6 570.6 L846.7 576.2 L842.1 576.6 Z" fill="#fff" stroke="#141414" stroke-width="2.11"/>
<line x1="848.9" y1="568.8" x2="850.8" y2="574.0" stroke="#bbb" stroke-width="0.99"/>
<path d="M826.4 408.4 L800.2 426.0 L821.0 437.0 L778.4 466.0" fill="none" stroke="#141414" stroke-width="1.12"/>
<path d="M826.4 438.6 L802.0 457.0 L814.4 462.4" fill="none" stroke="#141414" stroke-width="1.12"/>
<line x1="910.2" y1="441.0" x2="836.2" y2="489.6" stroke="#141414" stroke-width="1.12"/>
<line x1="910.2" y1="471.6" x2="836.2" y2="520.4" stroke="#141414" stroke-width="1.12"/>
<ellipse cx="832.2" cy="404.8" rx="7.3" ry="9.6" transform="rotate(-18 832.2 404.8)" fill="#fff" stroke="#141414" stroke-width="1.61"/>
<ellipse cx="833.2" cy="404.6" rx="7.3" ry="9.6" transform="rotate(-18 833.2 404.6)" fill="#fff" stroke="#141414" stroke-width="1.98"/>
<ellipse cx="833.4" cy="405.0" rx="1.5" ry="2.2" transform="rotate(-18 833.4 405.0)" fill="#444" stroke="#141414" stroke-width="1.24"/>
<ellipse cx="832.2" cy="435.2" rx="7.3" ry="9.6" transform="rotate(-18 832.2 435.2)" fill="#fff" stroke="#141414" stroke-width="1.61"/>
<ellipse cx="833.2" cy="435.0" rx="7.3" ry="9.6" transform="rotate(-18 833.2 435.0)" fill="#fff" stroke="#141414" stroke-width="1.98"/>
<ellipse cx="833.4" cy="435.4" rx="1.5" ry="2.2" transform="rotate(-18 833.4 435.4)" fill="#444" stroke="#141414" stroke-width="1.24"/>
<ellipse cx="847.4" cy="395.0" rx="4.9" ry="5.8" transform="rotate(-15 847.4 395.0)" fill="#fff" stroke="#141414" stroke-width="2.11"/>
<ellipse cx="847.7" cy="395.2" rx="2.2" ry="2.6" transform="rotate(-15 847.7 395.2)" fill="none" stroke="#141414" stroke-width="1.36"/>
<ellipse cx="847.4" cy="425.6" rx="4.9" ry="5.8" transform="rotate(-15 847.4 425.6)" fill="#fff" stroke="#141414" stroke-width="2.11"/>
<ellipse cx="847.7" cy="425.8" rx="2.2" ry="2.6" transform="rotate(-15 847.7 425.8)" fill="none" stroke="#141414" stroke-width="1.36"/>
<path d="M863.9 389.0 L860.4 392.5 L856.1 390.7 L855.3 385.4 L858.8 381.9 L863.1 383.7 Z" fill="#3a3a3a" stroke="#141414" stroke-width="1.98"/>
<ellipse cx="860.1" cy="387.5" rx="2.3" ry="3.1" transform="rotate(15 860.1 387.5)" fill="#3a3a3a" stroke="#b0b0b0" stroke-width="1.24"/>
<ellipse cx="860.2" cy="387.6" rx="0.9" ry="1.3" transform="rotate(15 860.2 387.6)" fill="#333" stroke="#141414" stroke-width="0.87"/>
<path d="M863.9 419.4 L860.4 422.9 L856.1 421.1 L855.3 415.8 L858.8 412.3 L863.1 414.1 Z" fill="#3a3a3a" stroke="#141414" stroke-width="1.98"/>
<ellipse cx="860.1" cy="417.9" rx="2.3" ry="3.1" transform="rotate(15 860.1 417.9)" fill="#3a3a3a" stroke="#b0b0b0" stroke-width="1.24"/>
<ellipse cx="860.2" cy="418.0" rx="0.9" ry="1.3" transform="rotate(15 860.2 418.0)" fill="#333" stroke="#141414" stroke-width="0.87"/>
<line x1="840.8" y1="399.8" x2="843.4" y2="398.0" stroke="#141414" stroke-width="1.12"/>
<line x1="852.2" y1="392.0" x2="855.0" y2="390.2" stroke="#141414" stroke-width="1.12"/>
<line x1="840.8" y1="430.2" x2="843.4" y2="428.4" stroke="#141414" stroke-width="1.12"/>
<line x1="852.2" y1="422.4" x2="855.0" y2="420.6" stroke="#141414" stroke-width="1.12"/>
<ellipse cx="915.8" cy="437.2" rx="7.3" ry="9.6" transform="rotate(-18 915.8 437.2)" fill="#fff" stroke="#141414" stroke-width="1.61"/>
<ellipse cx="916.8" cy="437.0" rx="7.3" ry="9.6" transform="rotate(-18 916.8 437.0)" fill="#fff" stroke="#141414" stroke-width="1.98"/>
<ellipse cx="917.0" cy="437.4" rx="1.5" ry="2.2" transform="rotate(-18 917.0 437.4)" fill="#444" stroke="#141414" stroke-width="1.24"/>
<ellipse cx="915.8" cy="467.8" rx="7.3" ry="9.6" transform="rotate(-18 915.8 467.8)" fill="#fff" stroke="#141414" stroke-width="1.61"/>
<ellipse cx="916.8" cy="467.6" rx="7.3" ry="9.6" transform="rotate(-18 916.8 467.6)" fill="#fff" stroke="#141414" stroke-width="1.98"/>
<ellipse cx="917.0" cy="468.0" rx="1.5" ry="2.2" transform="rotate(-18 917.0 468.0)" fill="#444" stroke="#141414" stroke-width="1.24"/>
<ellipse cx="931.0" cy="427.6" rx="4.9" ry="5.8" transform="rotate(-15 931.0 427.6)" fill="#fff" stroke="#141414" stroke-width="2.11"/>
<ellipse cx="931.3" cy="427.8" rx="2.2" ry="2.6" transform="rotate(-15 931.3 427.8)" fill="none" stroke="#141414" stroke-width="1.36"/>
<ellipse cx="931.0" cy="458.0" rx="4.9" ry="5.8" transform="rotate(-15 931.0 458.0)" fill="#fff" stroke="#141414" stroke-width="2.11"/>
<ellipse cx="931.3" cy="458.2" rx="2.2" ry="2.6" transform="rotate(-15 931.3 458.2)" fill="none" stroke="#141414" stroke-width="1.36"/>
<path d="M947.3 421.8 L943.8 425.3 L939.5 423.5 L938.7 418.2 L942.2 414.7 L946.5 416.5 Z" fill="#3a3a3a" stroke="#141414" stroke-width="1.98"/>
<ellipse cx="943.5" cy="420.3" rx="2.3" ry="3.1" transform="rotate(15 943.5 420.3)" fill="#3a3a3a" stroke="#b0b0b0" stroke-width="1.24"/>
<ellipse cx="943.6" cy="420.4" rx="0.9" ry="1.3" transform="rotate(15 943.6 420.4)" fill="#333" stroke="#141414" stroke-width="0.87"/>
<path d="M947.3 452.2 L943.8 455.7 L939.5 453.9 L938.7 448.6 L942.2 445.1 L946.5 446.9 Z" fill="#3a3a3a" stroke="#141414" stroke-width="1.98"/>
<ellipse cx="943.5" cy="450.7" rx="2.3" ry="3.1" transform="rotate(15 943.5 450.7)" fill="#3a3a3a" stroke="#b0b0b0" stroke-width="1.24"/>
<ellipse cx="943.6" cy="450.8" rx="0.9" ry="1.3" transform="rotate(15 943.6 450.8)" fill="#333" stroke="#141414" stroke-width="0.87"/>
<line x1="924.2" y1="432.4" x2="926.6" y2="430.6" stroke="#141414" stroke-width="1.12"/>
<line x1="935.6" y1="424.6" x2="938.4" y2="422.8" stroke="#141414" stroke-width="1.12"/>
<line x1="924.2" y1="462.8" x2="926.6" y2="461.0" stroke="#141414" stroke-width="1.12"/>
<line x1="935.6" y1="455.0" x2="938.4" y2="453.2" stroke="#141414" stroke-width="1.12"/>
<text x="795.0" y="290.0" font-size="12.2" letter-spacing="0.45" fill="#2a2a2a" text-anchor="start">M10x35</text>
<line x1="844.0" y1="284.0" x2="857.0" y2="325.6" stroke="#141414" stroke-width="1.12"/>
<line x1="874.0" y1="336.4" x2="952.0" y2="367.0" stroke="#141414" stroke-width="1.12"/>
<path d="M856.1 332.4 L873.1 338.6" fill="none" stroke="#141414" stroke-width="1.49"/>
<path d="M857.9 327.6 L874.9 333.8" fill="none" stroke="#141414" stroke-width="1.49"/>
<ellipse cx="874.0" cy="336.2" rx="1.3" ry="2.6" transform="rotate(20.037210169192953 874.0 336.2)" fill="#fff" stroke="#141414" stroke-width="1.49"/>
<ellipse cx="859.1" cy="330.8" rx="2.0" ry="4.5" transform="rotate(20.037210169192953 859.1 330.8)" fill="#fff" stroke="#141414" stroke-width="1.86"/>
<ellipse cx="856.4" cy="329.8" rx="2.5" ry="4.5" transform="rotate(20.037210169192953 856.4 329.8)" fill="#fff" stroke="#141414" stroke-width="1.98"/>
<line x1="855.7" y1="331.7" x2="858.2" y2="332.6" stroke="#141414" stroke-width="1.12"/>
<ellipse cx="888.6" cy="342.4" rx="3.6" ry="5.7" transform="rotate(15 888.6 342.4)" fill="#fff" stroke="#141414" stroke-width="2.11"/>
<ellipse cx="888.9" cy="342.6" rx="1.6" ry="2.6" transform="rotate(15 888.9 342.6)" fill="none" stroke="#141414" stroke-width="1.36"/>
<ellipse cx="903.0" cy="349.2" rx="6.3" ry="9.0" transform="rotate(15 903.0 349.2)" fill="#fff" stroke="#141414" stroke-width="1.61"/>
<ellipse cx="904.0" cy="349.0" rx="6.3" ry="9.0" transform="rotate(15 904.0 349.0)" fill="#fff" stroke="#141414" stroke-width="1.98"/>
<ellipse cx="904.2" cy="349.4" rx="1.5" ry="2.2" transform="rotate(15 904.2 349.4)" fill="#444" stroke="#141414" stroke-width="1.24"/>
<circle cx="812.6" cy="340.4" r="24.0" fill="none" stroke="#141414" stroke-width="1.18"/>
<line x1="834.0" y1="354.0" x2="917.0" y2="403.0" stroke="#141414" stroke-width="1.12"/>
<circle cx="917.0" cy="403.0" r="1.1" fill="#141414" stroke="#141414" stroke-width="0.74"/>
<path d="M805.6 348.4 L812.8 332.0 L820.0 348.4" fill="none" stroke="#141414" stroke-width="1.49"/>
<line x1="808.6" y1="342.0" x2="817.0" y2="342.0" stroke="#141414" stroke-width="1.36"/>
<path d="M112.5 267.2 L112.5 326.0 L111.6 330.4 L101.4 338.6 L99.0 342.0 L98.2 348.6" fill="none" stroke="#141414" stroke-width="1.55"/>
<path d="M116.8 268.8 L116.8 327.4 L115.6 332.4 L105.4 340.6 L103.4 343.6 L102.8 347.6" fill="none" stroke="#141414" stroke-width="1.36"/>
<path d="M175.6 306.8 L195.6 314.3 L195.6 324.2" fill="none" stroke="#141414" stroke-width="1.55"/>
<path d="M177.8 310.4 L193.2 316.2 L193.2 321.0" fill="none" stroke="#141414" stroke-width="1.12"/>
<path d="M49.8 223.6 L75.1 207.1 L231.8 268.7 L231.8 286.2 L205.5 303.7 L49.8 242.3 Z" fill="#fff" stroke="#141414" stroke-width="1.86"/>
<line x1="49.8" y1="223.6" x2="204.9" y2="283.7" stroke="#141414" stroke-width="1.74"/>
<line x1="50.6" y1="228.2" x2="204.6" y2="287.0" stroke="#141414" stroke-width="1.36"/>
<line x1="204.9" y1="283.7" x2="231.8" y2="268.7" stroke="#141414" stroke-width="1.74"/>
<line x1="205.2" y1="283.7" x2="205.5" y2="303.7" stroke="#141414" stroke-width="1.74"/>
<line x1="49.8" y1="242.3" x2="205.5" y2="303.7" stroke="#141414" stroke-width="2.48"/>
<line x1="75.1" y1="207.1" x2="231.8" y2="268.7" stroke="#141414" stroke-width="2.11"/>
<path d="M208.0 285.4 L229.2 272.6 L229.2 285.4 L208.0 299.4 Z" fill="none" stroke="#141414" stroke-width="1.36"/>
<line x1="214.9" y1="280.6" x2="229.2" y2="285.8" stroke="#141414" stroke-width="1.24"/>
<line x1="214.9" y1="280.6" x2="214.9" y2="294.6" stroke="#141414" stroke-width="0.0"/>
<line x1="81.6" y1="352.7" x2="117.7" y2="341.4" stroke="#141414" stroke-width="1.61"/>
<path d="M108.6 337.6 C114 332 126 326.4 136.0 328.6 L141.6 330.4" fill="none" stroke="#141414" stroke-width="1.49"/>
<path d="M117.7 341.4 C124 337 133 333.6 141.6 334.0" fill="none" stroke="#141414" stroke-width="1.36"/>
<path d="M121.0 332.4 L127.6 340.6 M127.0 330.0 L133.0 337.6" fill="none" stroke="#141414" stroke-width="1.12"/>
<path d="M117.7 340.2 C122.6 344 125.2 351 125.3 358.6" fill="none" stroke="#141414" stroke-width="1.61"/>
<path d="M120.6 339.0 C125.6 343 128.2 350 128.2 357.0" fill="none" stroke="#141414" stroke-width="1.36"/>
<path d="M104.6 344.6 C109.6 347 112.6 352 112.4 357.4" fill="none" stroke="#141414" stroke-width="1.24"/>
<path d="M92.0 373.6 L109.4 368.3 L112.8 370.0 L95.6 375.8 Z" fill="#fff" stroke="#141414" stroke-width="1.49"/>
<path d="M92.0 373.6 L90.6 383.2 L93.4 385.4 L95.6 375.8 Z" fill="#fff" stroke="#141414" stroke-width="1.49"/>
<path d="M95.6 375.8 L112.8 370.0 L112.2 379.8 L93.4 385.4 Z" fill="#fff" stroke="#141414" stroke-width="1.49"/>
<path d="M112.6 370.6 L126.2 365.4 L126.2 372.2 L112.4 377.8 Z" fill="#fff" stroke="#141414" stroke-width="1.49"/>
<line x1="105.0" y1="372.6" x2="104.4" y2="381.8" stroke="#141414" stroke-width="1.24"/>
<path d="M103.6 365.0 L106.4 361.0 L124.8 356.6 L126.2 365.4 L112.8 370.0 L109.4 368.3 Z" fill="#fff" stroke="#141414" stroke-width="1.49"/>
<ellipse cx="114.6" cy="361.6" rx="6.4" ry="2.9" transform="rotate(-14 114.6 361.6)" fill="#fff" stroke="#141414" stroke-width="1.61"/>
<ellipse cx="114.2" cy="360.4" rx="2.6" ry="1.7" transform="rotate(-14 114.2 360.4)" fill="#444" stroke="#141414" stroke-width="1.98"/>
<path d="M56.0 333.7 L56.0 354.0 C56.2 363.1 63.6 371.8 73.9 373.6 C82.1 374.6 89.7 372.9 96.0 370.7" fill="none" stroke="#141414" stroke-width="1.61"/>
<path d="M73.3 334.2 C73.3 342.4 75.6 349.5 83.9 352.5" fill="none" stroke="#141414" stroke-width="1.61"/>
<path d="M83.9 352.5 C91.9 354.4 98.5 362.5 95.5 370.9" fill="none" stroke="#141414" stroke-width="1.45"/>
<path d="M61.8 365.7 C70.1 365.3 77.3 359.8 79.3 351.5" fill="none" stroke="#141414" stroke-width="1.37"/>
<path d="M56.0 338.7 C60.3 341.7 69.0 341.3 73.3 337.6" fill="none" stroke="#141414" stroke-width="1.45"/>
<circle cx="63.8" cy="319.6" r="14.6" fill="#fff" stroke="#141414" stroke-width="1.69"/>
<path d="M55.5 332.5 C60.3 336.1 69.0 335.6 73.0 331.7" fill="none" stroke="#141414" stroke-width="1.45"/>
<path d="M58.8 306.3 C60.3 309.9 67.3 309.9 68.8 306.3" fill="none" stroke="#141414" stroke-width="1.29"/>
<path d="M143.6 300.0 L143.6 333.4 L133.4 346.6 L130.2 357.0 L131.6 371.6 L138.6 376.6 L146.6 367.6 L160.0 360.0 L174.0 350.0 L174.0 300.0 Z" fill="#fff" stroke="none"/>
<path d="M143.6 279.6 L143.6 333.4 L142.4 338.0 L133.4 346.6 L130.8 351.0 L130.2 357.0 L130.2 366.0 L131.6 371.6 L134.6 375.6 L138.6 376.6 L143.2 373.4 L146.6 367.6" fill="none" stroke="#141414" stroke-width="1.67"/>
<path d="M147.8 281.2 L147.8 334.4 L146.4 339.6 L137.2 348.2 L134.8 352.0 L134.2 357.0 L134.2 366.0" fill="none" stroke="#141414" stroke-width="1.36"/>
<path d="M154.6 292.1 C154.6 287.3 158.1 285.5 161.5 287.3 L166.7 290.0 C168.7 291.1 169.2 292.4 169.2 294.4 L169.2 306.8 C169.2 309.7 168.3 310.8 166.0 311.9 L159.6 315.3 C156.4 316.9 154.6 315.3 154.6 311.9 Z" fill="none" stroke="#141414" stroke-width="1.49"/>
<line x1="158.4" y1="292.7" x2="166.5" y2="290.4" stroke="#141414" stroke-width="1.18"/>
<line x1="158.4" y1="295.8" x2="166.5" y2="293.6" stroke="#141414" stroke-width="1.18"/>
<line x1="158.4" y1="298.9" x2="166.5" y2="296.7" stroke="#141414" stroke-width="1.18"/>
<line x1="158.4" y1="302.1" x2="166.5" y2="299.8" stroke="#141414" stroke-width="1.18"/>
<line x1="158.4" y1="305.2" x2="166.5" y2="303.0" stroke="#141414" stroke-width="1.18"/>
<line x1="158.4" y1="308.4" x2="166.5" y2="306.1" stroke="#141414" stroke-width="1.18"/>
<line x1="158.4" y1="311.5" x2="166.5" y2="309.2" stroke="#141414" stroke-width="1.18"/>
<line x1="158.0" y1="290.4" x2="158.0" y2="313.5" stroke="#141414" stroke-width="1.12"/>
<line x1="166.8" y1="291.1" x2="166.8" y2="310.1" stroke="#141414" stroke-width="1.12"/>
<line x1="174.6" y1="291.6" x2="174.6" y2="328.6" stroke="#141414" stroke-width="1.49"/>
<path d="M180.3 327.6 L179.1 319.6 C179.5 313.5 190.6 310.7 193.3 318.5 C194.6 327.3 198.4 332.4 204.5 335.8 C213.9 341.1 220.6 349.5 221.5 359.0 C221.9 364.0 221.2 368.4 217.5 368.0 L210.2 363.3 L209.2 363.3 A8.5 9.7 0 1 0 205.5 365.6 L213.2 370.6 C215.5 373.3 213.4 376.0 208.4 376.4 C200.6 377.1 196.2 372.8 193.3 370.6 C189.5 368.2 184.0 370.4 180.0 367.3 C176.2 364.0 177.3 356.9 182.4 355.1 L182.8 344.4 L181.1 333.7 Z" fill="#fff" stroke="#141414" stroke-width="1.61"/>
<ellipse cx="183.6" cy="362.9" rx="3.0" ry="4.3" transform="rotate(-20 183.6 362.9)" fill="none" stroke="#141414" stroke-width="1.61"/>
<circle cx="191.4" cy="342.9" r="1.0" fill="#141414" stroke="#141414" stroke-width="0.62"/>
<circle cx="214.9" cy="352.1" r="1.0" fill="#141414" stroke="#141414" stroke-width="0.62"/>
<circle cx="201.8" cy="370.6" r="1.0" fill="#141414" stroke="#141414" stroke-width="0.62"/>
<ellipse cx="173.7" cy="326.8" rx="3.0" ry="5.5" transform="rotate(-22 173.7 326.8)" fill="#fff" stroke="#141414" stroke-width="2.17"/>
<ellipse cx="176.5" cy="325.2" rx="3.0" ry="5.5" transform="rotate(-22 176.5 325.2)" fill="none" stroke="#141414" stroke-width="2.17"/>
<ellipse cx="179.4" cy="323.6" rx="3.0" ry="5.5" transform="rotate(-22 179.4 323.6)" fill="none" stroke="#141414" stroke-width="2.17"/>
<ellipse cx="182.3" cy="322.0" rx="3.0" ry="5.5" transform="rotate(-22 182.3 322.0)" fill="none" stroke="#141414" stroke-width="2.17"/>
<ellipse cx="185.1" cy="320.4" rx="3.0" ry="5.5" transform="rotate(-22 185.1 320.4)" fill="none" stroke="#141414" stroke-width="2.17"/>
<ellipse cx="172.6" cy="327.5" rx="3.1" ry="5.1" transform="rotate(-22 172.6 327.5)" fill="#1c1c1c" stroke="#141414" stroke-width="2.23"/>
<ellipse cx="172.1" cy="327.8" rx="1.2" ry="2.0" transform="rotate(-22 172.1 327.8)" fill="#ddd" stroke="#ddd" stroke-width="0.74"/>
<ellipse cx="139.4" cy="370.2" rx="1.9" ry="2.9" transform="rotate(25 139.4 370.2)" fill="none" stroke="#141414" stroke-width="1.36"/>
<line x1="148.5" y1="360.2" x2="158.0" y2="356.0" stroke="#141414" stroke-width="1.24"/>
<ellipse cx="147.5" cy="358.4" rx="3.6" ry="5.5" transform="rotate(-8 147.5 358.4)" fill="#2a2a2a" stroke="#141414" stroke-width="1.98"/>
<path d="M137.7 358.0 L140.1 352.3 L145.1 351.6 L147.5 357.1 L145.4 363.3 L140.3 363.8 Z" fill="#fff" stroke="#141414" stroke-width="2.11"/>
<line x1="147.9" y1="355.2" x2="149.9" y2="360.9" stroke="#bbb" stroke-width="0.99"/>
<ellipse cx="164.9" cy="352.0" rx="3.6" ry="5.5" transform="rotate(-8 164.9 352.0)" fill="#2a2a2a" stroke="#141414" stroke-width="1.98"/>
<path d="M155.1 351.6 L157.5 345.9 L162.5 345.2 L164.9 350.7 L162.8 356.9 L157.7 357.4 Z" fill="#fff" stroke="#141414" stroke-width="2.11"/>
<line x1="165.3" y1="348.8" x2="167.3" y2="354.5" stroke="#bbb" stroke-width="0.99"/>
<line x1="152.0" y1="400.0" x2="146.2" y2="365.0" stroke="#141414" stroke-width="1.12"/>
<line x1="152.0" y1="400.0" x2="174.6" y2="330.0" stroke="#141414" stroke-width="1.12"/>
<text x="155.0" y="407.2" font-size="12.2" letter-spacing="0.25" fill="#2a2a2a" text-anchor="start">M12x19 - 4ks</text>
<path d="M110.5 522.4 L110.5 581.2 L109.6 585.6 L99.4 593.8 L97.0 597.2 L96.2 603.8" fill="none" stroke="#141414" stroke-width="1.55"/>
<path d="M114.8 524.0 L114.8 582.6 L113.6 587.6 L103.4 595.8 L101.4 598.8 L100.8 602.8" fill="none" stroke="#141414" stroke-width="1.36"/>
<path d="M173.6 562.0 L193.6 569.5 L193.6 579.4" fill="none" stroke="#141414" stroke-width="1.55"/>
<path d="M175.8 565.6 L191.2 571.4 L191.2 576.2" fill="none" stroke="#141414" stroke-width="1.12"/>
<path d="M47.8 478.8 L73.1 462.3 L229.8 523.9 L229.8 541.4 L203.5 558.9 L47.8 497.5 Z" fill="#fff" stroke="#141414" stroke-width="1.86"/>
<line x1="47.8" y1="478.8" x2="202.9" y2="538.9" stroke="#141414" stroke-width="1.74"/>
<line x1="48.6" y1="483.4" x2="202.6" y2="542.2" stroke="#141414" stroke-width="1.36"/>
<line x1="202.9" y1="538.9" x2="229.8" y2="523.9" stroke="#141414" stroke-width="1.74"/>
<line x1="203.2" y1="538.9" x2="203.5" y2="558.9" stroke="#141414" stroke-width="1.74"/>
<line x1="47.8" y1="497.5" x2="203.5" y2="558.9" stroke="#141414" stroke-width="2.48"/>
<line x1="73.1" y1="462.3" x2="229.8" y2="523.9" stroke="#141414" stroke-width="2.11"/>
<path d="M206.0 540.6 L227.2 527.8 L227.2 540.6 L206.0 554.6 Z" fill="none" stroke="#141414" stroke-width="1.36"/>
<line x1="212.9" y1="535.8" x2="227.2" y2="541.0" stroke="#141414" stroke-width="1.24"/>
<line x1="212.9" y1="535.8" x2="212.9" y2="549.8" stroke="#141414" stroke-width="0.0"/>
<line x1="80.2" y1="607.0" x2="145.0" y2="585.7" stroke="#141414" stroke-width="1.61"/>
<line x1="96.2" y1="626.4" x2="127.6" y2="616.0" stroke="#141414" stroke-width="1.61"/>
<ellipse cx="110.4" cy="594.2" rx="3.6" ry="1.6" transform="rotate(-18 110.4 594.2)" fill="none" stroke="#141414" stroke-width="1.49"/>
<ellipse cx="112.2" cy="592.8" rx="2.6" ry="1.2" transform="rotate(-18 112.2 592.8)" fill="none" stroke="#141414" stroke-width="1.24"/>
<ellipse cx="127.2" cy="588.4" rx="3.6" ry="1.6" transform="rotate(-18 127.2 588.4)" fill="none" stroke="#141414" stroke-width="1.49"/>
<ellipse cx="129.0" cy="587.0" rx="2.6" ry="1.2" transform="rotate(-18 129.0 587.0)" fill="none" stroke="#141414" stroke-width="1.24"/>
<path d="M56.0 588.1 L56.0 608.4 C56.2 617.5 63.6 626.2 73.9 628.0 C82.1 629.0 89.7 627.3 96.0 625.1" fill="none" stroke="#141414" stroke-width="1.61"/>
<path d="M73.3 588.6 C73.3 596.8 75.6 603.9 83.9 606.9" fill="none" stroke="#141414" stroke-width="1.61"/>
<path d="M83.9 606.9 C91.9 608.8 98.5 616.9 95.5 625.3" fill="none" stroke="#141414" stroke-width="1.45"/>
<path d="M61.8 620.1 C70.1 619.7 77.3 614.2 79.3 605.9" fill="none" stroke="#141414" stroke-width="1.37"/>
<path d="M56.0 593.1 C60.3 596.1 69.0 595.7 73.3 592.0" fill="none" stroke="#141414" stroke-width="1.45"/>
<circle cx="63.8" cy="574.0" r="14.6" fill="#fff" stroke="#141414" stroke-width="1.69"/>
<path d="M55.5 586.9 C60.3 590.5 69.0 590.0 73.0 586.1" fill="none" stroke="#141414" stroke-width="1.45"/>
<path d="M58.8 560.7 C60.3 564.3 67.3 564.3 68.8 560.7" fill="none" stroke="#141414" stroke-width="1.29"/>
<path d="M142.4 555.4 L142.4 588.8 L132.2 602.0 L129.0 612.4 L130.4 627.0 L137.4 632.0 L145.4 623.0 L158.8 615.4 L172.8 605.4 L172.8 555.4 Z" fill="#fff" stroke="none"/>
<path d="M144.0 535.0 L144.0 588.8 L142.8 593.4 L133.8 602.0 L131.2 606.4 L130.6 612.4 L130.6 621.4 L132.0 627.0 L135.0 631.0 L139.0 632.0 L143.6 628.8 L147.0 623.0" fill="none" stroke="#141414" stroke-width="1.67"/>
<path d="M148.2 536.6 L148.2 589.8 L146.8 595.0 L137.6 603.6 L135.2 607.4 L134.6 612.4 L134.6 621.4" fill="none" stroke="#141414" stroke-width="1.36"/>
<path d="M153.4 547.5 C153.4 542.7 156.9 540.9 160.3 542.7 L165.5 545.4 C167.5 546.5 168.0 547.8 168.0 549.8 L168.0 562.2 C168.0 565.1 167.1 566.2 164.8 567.3 L158.4 570.7 C155.2 572.3 153.4 570.7 153.4 567.3 Z" fill="none" stroke="#141414" stroke-width="1.49"/>
<line x1="157.2" y1="548.1" x2="165.3" y2="545.8" stroke="#141414" stroke-width="1.18"/>
<line x1="157.2" y1="551.2" x2="165.3" y2="549.0" stroke="#141414" stroke-width="1.18"/>
<line x1="157.2" y1="554.3" x2="165.3" y2="552.1" stroke="#141414" stroke-width="1.18"/>
<line x1="157.2" y1="557.5" x2="165.3" y2="555.2" stroke="#141414" stroke-width="1.18"/>
<line x1="157.2" y1="560.6" x2="165.3" y2="558.4" stroke="#141414" stroke-width="1.18"/>
<line x1="157.2" y1="563.8" x2="165.3" y2="561.5" stroke="#141414" stroke-width="1.18"/>
<line x1="157.2" y1="566.9" x2="165.3" y2="564.6" stroke="#141414" stroke-width="1.18"/>
<line x1="156.8" y1="545.8" x2="156.8" y2="568.9" stroke="#141414" stroke-width="1.12"/>
<line x1="165.6" y1="546.5" x2="165.6" y2="565.5" stroke="#141414" stroke-width="1.12"/>
<line x1="173.4" y1="547.0" x2="173.4" y2="584.0" stroke="#141414" stroke-width="1.49"/>
<path d="M178.7 583.0 L177.5 575.0 C177.9 568.9 189.0 566.1 191.7 573.9 C193.0 582.7 196.8 587.8 202.9 591.2 C212.3 596.5 219.0 604.9 219.9 614.4 C220.3 619.4 219.6 623.8 215.9 623.4 L208.6 618.7 L207.6 618.7 A8.5 9.7 0 1 0 203.9 621.0 L211.6 626.0 C213.9 628.7 211.8 631.4 206.8 631.8 C199.0 632.5 194.6 628.2 191.7 626.0 C187.9 623.6 182.4 625.8 178.4 622.7 C174.6 619.4 175.7 612.3 180.8 610.5 L181.2 599.8 L179.5 589.1 Z" fill="#fff" stroke="#141414" stroke-width="1.61"/>
<ellipse cx="182.0" cy="618.3" rx="3.0" ry="4.3" transform="rotate(-20 182.0 618.3)" fill="none" stroke="#141414" stroke-width="1.61"/>
<circle cx="189.8" cy="598.3" r="1.0" fill="#141414" stroke="#141414" stroke-width="0.62"/>
<circle cx="213.3" cy="607.5" r="1.0" fill="#141414" stroke="#141414" stroke-width="0.62"/>
<circle cx="200.2" cy="626.0" r="1.0" fill="#141414" stroke="#141414" stroke-width="0.62"/>
<ellipse cx="172.1" cy="582.2" rx="3.0" ry="5.5" transform="rotate(-22 172.1 582.2)" fill="#fff" stroke="#141414" stroke-width="2.17"/>
<ellipse cx="174.9" cy="580.6" rx="3.0" ry="5.5" transform="rotate(-22 174.9 580.6)" fill="none" stroke="#141414" stroke-width="2.17"/>
<ellipse cx="177.8" cy="579.0" rx="3.0" ry="5.5" transform="rotate(-22 177.8 579.0)" fill="none" stroke="#141414" stroke-width="2.17"/>
<ellipse cx="180.7" cy="577.4" rx="3.0" ry="5.5" transform="rotate(-22 180.7 577.4)" fill="none" stroke="#141414" stroke-width="2.17"/>
<ellipse cx="183.5" cy="575.8" rx="3.0" ry="5.5" transform="rotate(-22 183.5 575.8)" fill="none" stroke="#141414" stroke-width="2.17"/>
<ellipse cx="171.0" cy="582.9" rx="3.1" ry="5.1" transform="rotate(-22 171.0 582.9)" fill="#1c1c1c" stroke="#141414" stroke-width="2.23"/>
<ellipse cx="170.5" cy="583.2" rx="1.2" ry="2.0" transform="rotate(-22 170.5 583.2)" fill="#ddd" stroke="#ddd" stroke-width="0.74"/>
<ellipse cx="137.8" cy="625.6" rx="1.9" ry="2.9" transform="rotate(25 137.8 625.6)" fill="none" stroke="#141414" stroke-width="1.36"/>
<line x1="146.9" y1="615.6" x2="156.4" y2="611.4" stroke="#141414" stroke-width="1.24"/>
<ellipse cx="145.9" cy="613.8" rx="3.6" ry="5.5" transform="rotate(-8 145.9 613.8)" fill="#2a2a2a" stroke="#141414" stroke-width="1.98"/>
<path d="M136.1 613.4 L138.5 607.7 L143.5 607.0 L145.9 612.5 L143.8 618.7 L138.7 619.2 Z" fill="#fff" stroke="#141414" stroke-width="2.11"/>
<line x1="146.3" y1="610.6" x2="148.3" y2="616.3" stroke="#bbb" stroke-width="0.99"/>
<ellipse cx="163.3" cy="607.4" rx="3.6" ry="5.5" transform="rotate(-8 163.3 607.4)" fill="#2a2a2a" stroke="#141414" stroke-width="1.98"/>
<path d="M153.5 607.0 L155.9 601.3 L160.9 600.6 L163.3 606.1 L161.2 612.3 L156.1 612.8 Z" fill="#fff" stroke="#141414" stroke-width="2.11"/>
<line x1="163.7" y1="604.2" x2="165.7" y2="609.9" stroke="#bbb" stroke-width="0.99"/>
<line x1="156.5" y1="660.0" x2="146.8" y2="620.6" stroke="#141414" stroke-width="1.12"/>
<line x1="156.5" y1="660.0" x2="173.2" y2="585.4" stroke="#141414" stroke-width="1.12"/>
<text x="159.8" y="667.2" font-size="12.2" letter-spacing="0.25" fill="#2a2a2a" text-anchor="start">M12x90 - 2ks</text>
</svg>
</body></html>
